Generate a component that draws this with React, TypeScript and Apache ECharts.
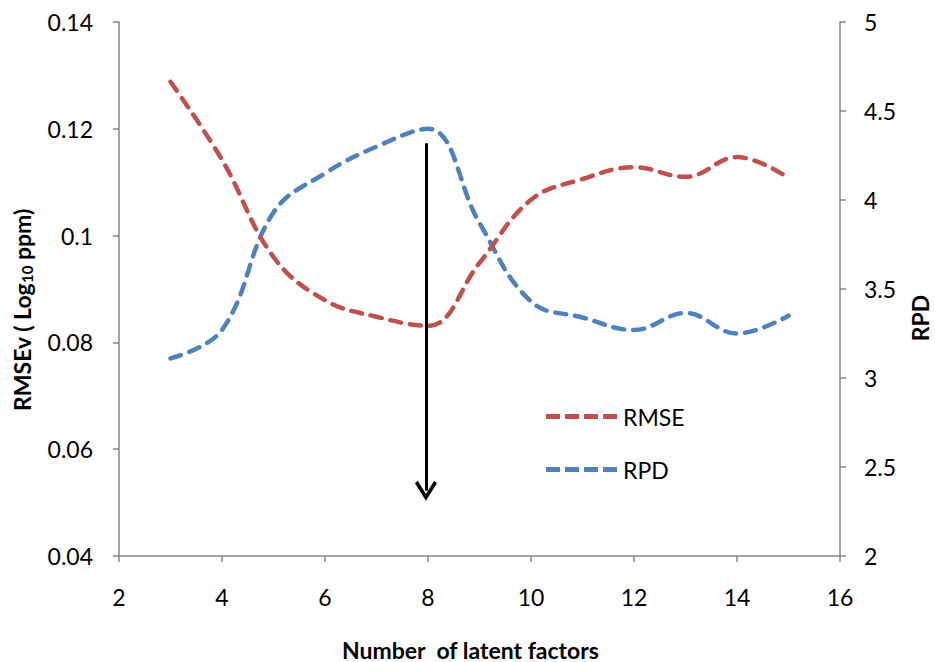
import React, { useEffect, useRef } from "react";
import * as echarts from "echarts";

const factors = [3, 4, 5, 6, 7, 8, 9, 10, 11, 12, 13, 14, 15];
const rmse = [0.1288, 0.1142, 0.096, 0.0879, 0.0848, 0.0831, 0.0949, 0.1067, 0.1106, 0.1128, 0.111, 0.1147, 0.1108];
const rpd = [3.11, 3.27, 3.93, 4.15, 4.3, 4.4, 3.87, 3.43, 3.34, 3.27, 3.365, 3.25, 3.35];
const arrowX = 7.96;
const arrowTop = 0.1173;
const arrowBottom = 0.0522;

const FONT = "Lato";
const AXIS_COLOR = "#868686";
const DASH_ICON = "path://M0,0 h14 v5 h-14 Z M19,0 h14 v5 h-14 Z M38,0 h14 v5 h-14 Z M57,0 h14 v5 h-14 Z";

export default function App() {
  const ref = useRef<HTMLDivElement>(null);
  useEffect(() => {
    if (!ref.current) return;
    const chart = echarts.init(ref.current, undefined, { renderer: "svg" });
    const axisLine = { show: true, lineStyle: { color: AXIS_COLOR, width: 1.5 } };
    const axisTick = { show: true, inside: false, length: 6, lineStyle: { color: AXIS_COLOR, width: 1.5 } };
    const labelStyle = { color: "#000", fontSize: 23, fontFamily: FONT };
    const nameStyle = { color: "#000", fontSize: 23, fontWeight: "bold", fontFamily: FONT };
    chart.setOption({
      animation: false,
      backgroundColor: "#fff",
      grid: { left: 119, right: 95, top: 22, bottom: 106, containLabel: false, outerBoundsMode: "none" },
      legend: {
        orient: "vertical",
        left: 541,
        top: 400,
        itemGap: 30,
        itemWidth: 71,
        itemHeight: 5,
        textStyle: { color: "#000", fontSize: 23, fontFamily: FONT, padding: [0, 0, 0, 1] },
        data: [
          { name: "RMSE", icon: DASH_ICON },
          { name: "RPD", icon: DASH_ICON },
        ],
      },
      xAxis: {
        type: "value",
        min: 2,
        max: 16,
        interval: 2,
        axisLine,
        axisTick,
        splitLine: { show: false },
        axisLabel: { ...labelStyle, margin: 29 },
        name: "Number  of latent factors",
        nameLocation: "middle",
        nameGap: 82,
        nameTextStyle: { ...nameStyle, padding: [0, 18, 0, 0] },
      },
      yAxis: [
        {
          type: "value",
          min: 0.04,
          max: 0.14,
          interval: 0.02,
          axisLine,
          axisTick,
          splitLine: { show: false },
          axisLabel: { ...labelStyle, margin: 26, formatter: (v: number) => String(+v.toFixed(2)) },
          name: "{b|RMSEv ( Log}{s|10}{b| ppm)}",
          nameLocation: "middle",
          nameGap: 85,
          nameTextStyle: {
            padding: [0, 0, 0, -42],
            rich: {
              b: { ...nameStyle },
              s: { fontSize: 15, fontWeight: "bold", color: "#000", fontFamily: FONT, padding: [10, 0, 0, 0] },
            },
          },
        },
        {
          type: "value",
          min: 2,
          max: 5,
          interval: 0.5,
          position: "right",
          axisLine,
          axisTick,
          splitLine: { show: false },
          axisLabel: { ...labelStyle, margin: 24 },
          name: "RPD",
          nameLocation: "middle",
          nameGap: 68,
          nameRotate: 90,
          nameTextStyle: { ...nameStyle, padding: [0, 0, 0, -58] },
        },
      ],
      series: [
        {
          name: "RMSE",
          type: "line",
          yAxisIndex: 0,
          smooth: 0.4,
          symbol: "none",
          color: "#C0504D",
          lineStyle: { width: 4.5, type: [11, 9], cap: "round", color: "#C0504D" },
          data: factors.map((x, i) => [x, rmse[i]]),
          z: 3,
          markLine: {
            silent: true,
            symbol: ["none", "path://M10,0 L20,14 L17.5,16 L10,5.5 L2.5,16 L0,14 Z"],
            symbolSize: [22, 20],
            label: { show: false },
            lineStyle: { color: "#000", width: 3, type: "solid" },
            data: [[{ coord: [arrowX, arrowTop] }, { coord: [arrowX, arrowBottom] }]],
          },
        },
        {
          name: "RPD",
          type: "line",
          yAxisIndex: 1,
          smooth: 0.4,
          symbol: "none",
          color: "#4F81BD",
          lineStyle: { width: 4.5, type: [11, 9], cap: "round", color: "#4F81BD" },
          data: factors.map((x, i) => [x, rpd[i]]),
          z: 2,
        },
      ],
    });
    return () => chart.dispose();
  }, []);
  return <div ref={ref} style={{ width: 935, height: 662, position: "absolute", left: 0, top: 0 }} />;
}
